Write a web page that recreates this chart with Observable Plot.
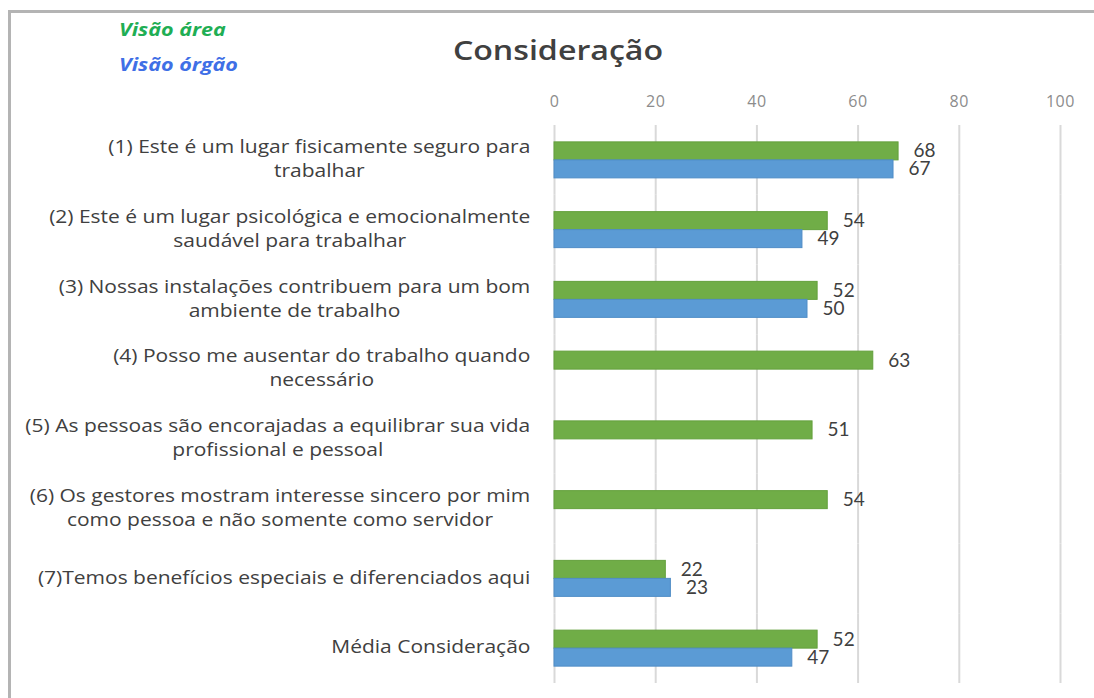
<!DOCTYPE html>
<html>
<head>
<meta charset="utf-8">
<script src="https://cdn.jsdelivr.net/npm/d3@7"></script>
<script src="https://cdn.jsdelivr.net/npm/@observablehq/plot@0.6"></script>
<style>
  html, body { margin: 0; padding: 0; background: #fff; }
  #wrap { position: relative; width: 1094px; height: 698px; overflow: hidden; font-family: "Open Sans", "Noto Sans", sans-serif; }
  #frame { position: absolute; left: 8px; top: 10px; width: 1200px; height: 800px; border-left: 3px solid #b4b4b4; border-top: 3px solid #b4b4b4; box-sizing: border-box; }
  #title { position: absolute; left: 0; width: 1116px; text-align: center; top: 31px; font-size: 27px; color: #404040; font-weight: 600; transform: scaleX(1.19); transform-origin: 558px 0; }
  .leg { position: absolute; left: 119px; font-size: 17.5px; font-weight: bold; font-style: italic; transform: scaleX(1.23); transform-origin: 0 0; }
  #chart { position: absolute; left: 0; top: 0; }
  g[aria-label="x-axis tick label"] text { letter-spacing: 0.6px; }
</style>
</head>
<body>
<div id="wrap">
  <div id="frame"></div>
  <div id="chart"></div>
  <div id="title">Consideração</div>
  <div class="leg" id="leg1" style="top:17px;color:#1fae54;"></div>
  <div class="leg" id="leg2" style="top:52px;color:#3f6fe6;"></div>
</div>
<script>
const categories = [
  "(1) Este é um lugar fisicamente seguro para\ntrabalhar",
  "(2) Este é um lugar psicológica e emocionalmente\nsaudável para trabalhar",
  "(3) Nossas instalações contribuem para um bom\nambiente de trabalho",
  "(4) Posso me ausentar do trabalho quando\nnecessário",
  "(5) As pessoas são encorajadas a equilibrar sua vida\nprofissional e pessoal",
  "(6) Os gestores mostram interesse sincero por mim\ncomo pessoa e não somente como servidor",
  "(7)Temos benefícios especiais e diferenciados aqui",
  "Média Consideração"
];
const series = ["Visão área", "Visão órgão"];
const areaValues = [68, 54, 52, 63, 51, 54, 22, 52];
const orgaoValues = [67, 49, 50, null, null, null, 23, 47];
const xTicks = [0, 20, 40, 60, 80, 100];
const seriesColors = ["#70AD47", "#5B9BD5"];
const seriesStrokes = ["#63a03c", "#4f8cc6"];

document.getElementById("leg1").textContent = series[0];
document.getElementById("leg2").textContent = series[1];

const data = [];
categories.forEach((c, i) => {
  if (areaValues[i] != null) data.push({cat: c, s: series[0], v: areaValues[i]});
  if (orgaoValues[i] != null) data.push({cat: c, s: series[1], v: orgaoValues[i]});
});

const chart = Plot.plot({
  width: 1094,
  height: 698,
  marginLeft: 554,
  marginRight: 34,
  marginTop: 125,
  marginBottom: 15,
  style: {fontFamily: "'Open Sans', 'Noto Sans', sans-serif", background: "transparent", overflow: "visible"},
  x: {domain: [0, 100], ticks: xTicks},
  fy: {domain: categories, padding: 0, round: false},
  y: {domain: series, paddingInner: 0, paddingOuter: 0.9375, axis: null, round: false},
  color: {domain: series, range: seriesColors},
  marks: [
    Plot.gridX(xTicks, {stroke: "#d9d9d9", strokeWidth: 2, strokeOpacity: 1}),
    Plot.axisX(xTicks, {anchor: "top", tickSize: 0, tickPadding: 19, fontSize: 16, color: "#8c8c8c", label: null}),
    Plot.axisFy({anchor: "left", tickSize: 0, tickPadding: 24, dy: -3, fontSize: 17.5, lineHeight: 1.38, color: "#404040", label: null}),
    Plot.barX(data, {fy: "cat", y: "s", x: "v", fill: "s", stroke: d => seriesStrokes[series.indexOf(d.s)], strokeWidth: 1}),
    Plot.text(data, {fy: "cat", y: "s", x: "v", text: d => String(d.v), dx: 15, textAnchor: "start", fontSize: 19, fontFamily: "Lato, sans-serif", fill: "#404040"})
  ]
});
document.getElementById("chart").append(chart);

// center wrapped category label lines on the first line, right-aligned block, widen glyphs
const stretch = 1.2;
chart.querySelectorAll('g[aria-label="fy-axis tick label"] text').forEach(t => {
  const b0 = t.getBBox();
  const right = b0.x + b0.width;
  t.setAttribute("text-anchor", "middle");
  const b1 = t.getBBox();
  const shift = (right - b0.width / 2) - (b1.x + b1.width / 2);
  const r1 = b1.x + b1.width;
  t.setAttribute("transform", (t.getAttribute("transform") || "") +
    ` translate(${shift},0) translate(${r1},0) scale(${stretch},1) translate(${-r1},0)`);
});
</script>
</body>
</html>
